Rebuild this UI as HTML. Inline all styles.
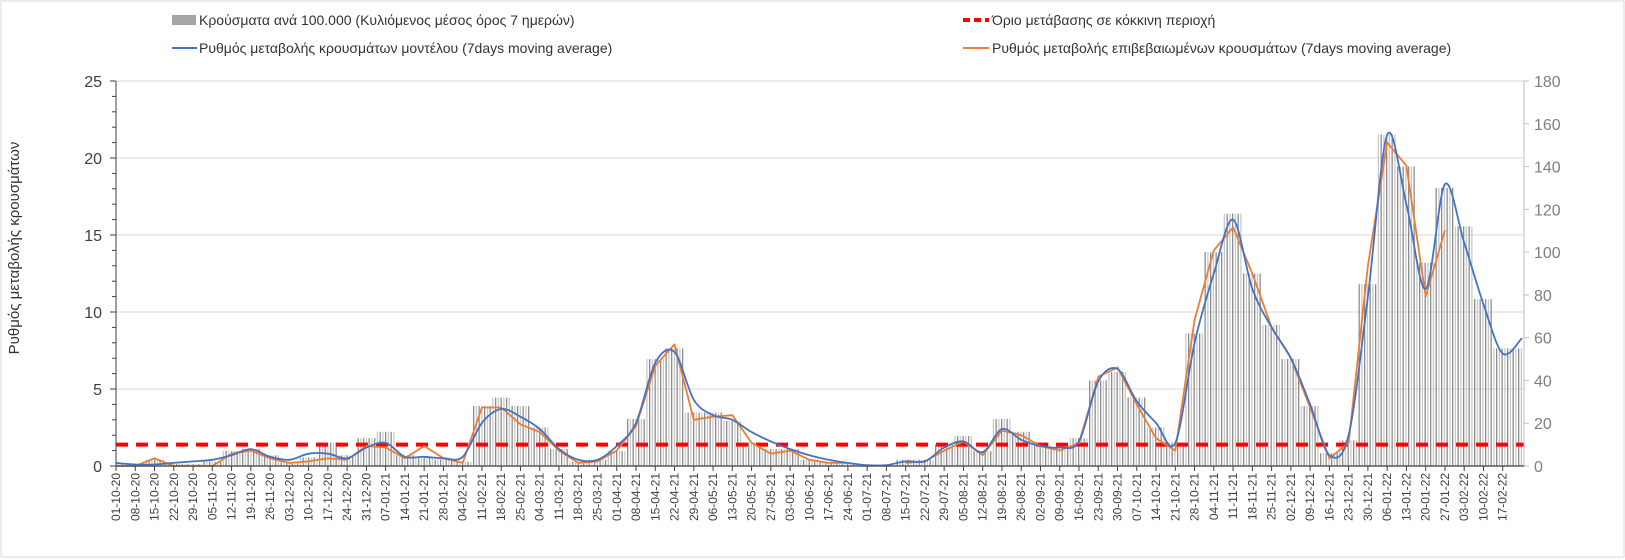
<!DOCTYPE html>
<html><head><meta charset="utf-8">
<style>
html,body{margin:0;padding:0;background:#fff;}
svg{display:block;font-family:"Liberation Sans",sans-serif;}
</style></head>
<body>
<svg id="chart" width="1625" height="560" viewBox="0 0 1625 560" xmlns="http://www.w3.org/2000/svg">
<defs>
<pattern id="stripes" patternUnits="userSpaceOnUse" width="5.5" height="10">
<rect x="0" y="0" width="1.3" height="10" fill="#8c8c8c"/>
<rect x="2.75" y="0" width="1.3" height="10" fill="#c8c8c8"/>
</pattern>
</defs>
<rect x="1" y="1" width="1623" height="556" fill="#fff" stroke="#d9d9d9"/>
<g id="grid"></g>
<g id="bars"></g>
<g id="lines"></g>
<g id="axes"></g>
<g id="legend">
<rect x="172" y="15" width="24" height="10" fill="#a6a6a6"/>
<text x="199" y="25" font-size="14" fill="#333">Κρούσματα ανά 100.000 (Κυλιόμενος μέσος όρος 7 ημερών)</text>
<line x1="172" y1="48" x2="197" y2="48" stroke="#4472c4" stroke-width="2"/>
<text x="199" y="53" font-size="14" fill="#333">Ρυθμός μεταβολής κρουσμάτων μοντέλου (7days moving average)</text>
<line x1="963" y1="20" x2="989" y2="20" stroke="#ff0000" stroke-width="4" stroke-dasharray="7,4"/>
<text x="992" y="25" font-size="14" fill="#333">Όριο μετάβασης σε κόκκινη περιοχή</text>
<line x1="963" y1="48" x2="989" y2="48" stroke="#ed7d31" stroke-width="2"/>
<text x="992" y="53" font-size="14" fill="#333">Ρυθμός μεταβολής επιβεβαιωμένων κρουσμάτων (7days moving average)</text>
</g>
<text transform="translate(19,248) rotate(-90)" text-anchor="middle" font-size="15" fill="#333">Ρυθμός μεταβολής κρουσμάτων</text>
</svg>
<script>
const dates = ["01-10-20","08-10-20","15-10-20","22-10-20","29-10-20","05-11-20","12-11-20","19-11-20","26-11-20","03-12-20","10-12-20","17-12-20","24-12-20","31-12-20","07-01-21","14-01-21","21-01-21","28-01-21","04-02-21","11-02-21","18-02-21","25-02-21","04-03-21","11-03-21","18-03-21","25-03-21","01-04-21","08-04-21","15-04-21","22-04-21","29-04-21","06-05-21","13-05-21","20-05-21","27-05-21","03-06-21","10-06-21","17-06-21","24-06-21","01-07-21","08-07-21","15-07-21","22-07-21","29-07-21","05-08-21","12-08-21","19-08-21","26-08-21","02-09-21","09-09-21","16-09-21","23-09-21","30-09-21","07-10-21","14-10-21","21-10-21","28-10-21","04-11-21","11-11-21","18-11-21","25-11-21","02-12-21","09-12-21","16-12-21","23-12-21","30-12-21","06-01-22","13-01-22","20-01-22","27-01-22","03-02-22","10-02-22","17-02-22","24-02-22"];
const modelRate = [0.2,0.1,0.1,0.2,0.3,0.4,0.7,1.1,0.6,0.4,0.8,0.8,0.5,1.2,1.5,0.6,0.6,0.5,0.6,2.8,3.7,3.2,2.4,1.1,0.4,0.4,1.3,2.8,6.7,7.4,4.3,3.3,3.0,2.2,1.6,1.1,0.7,0.4,0.2,0.05,0.05,0.3,0.3,1.2,1.6,0.9,2.4,1.7,1.3,1.2,1.6,5.5,6.3,4.2,2.8,1.5,8.0,12.5,16.0,11.5,9.0,7.0,4.0,0.7,2.0,11.0,21.5,17.0,11.5,18.3,14.5,10.5,7.3,8.3];
const confirmedRate = [0,0,0.5,0,0,0,0.8,1.0,0.5,0.2,0.3,0.5,0.4,1.3,1.2,0.5,1.3,0.5,0.2,3.8,3.8,2.7,2.2,1.0,0.2,0.3,1.0,2.6,6.5,7.9,3.0,3.2,3.3,1.5,0.8,1.0,0.4,0.2,0.2,null,null,0.2,0.3,1.0,1.6,0.7,2.3,2.0,1.3,1.0,1.5,5.8,6.4,4.0,1.8,1.0,9.5,14.0,15.5,12.5,9.0,7.0,3.8,0.5,1.5,13.0,21.0,19.5,11.0,15.3,null,null,null,null];
const casesPer100k = [1,0,3,1,1,2,7,8,5,2,4,11,5,13,16,5,4,3,2,28,32,28,18,8,2,3,7,22,50,55,25,25,21,11,8,8,3,2,1,0,0,3,3,10,14,7,22,16,11,9,13,40,44,32,18,11,62,100,118,90,66,50,28,6,12,85,155,140,95,130,112,78,55,55];
const leftTicks = [0,5,10,15,20,25];
const rightTicks = [0,20,40,60,80,100,120,140,160,180];
const thresholdCases = 10;

const NS="http://www.w3.org/2000/svg";
const X0=116, X1=1524, Y0=466, Y1=81, WEEK=19.26;
const xAt = i => X0 + i*WEEK;
const yL = v => Y0 - (v/25)*(Y0-Y1);
const yR = v => Y0 - (v/180)*(Y0-Y1);
function mk(tag, attrs, parent){const e=document.createElementNS(NS,tag);for(const k in attrs)e.setAttribute(k,attrs[k]);parent.appendChild(e);return e;}
const grid=document.getElementById('grid'), bars=document.getElementById('bars'), lines=document.getElementById('lines'), axes=document.getElementById('axes');

leftTicks.forEach(t=>{
  if(t>0){const g=mk('line',{x1:X0,x2:X1,y1:yL(t),y2:yL(t),stroke:'#d9d9d9','stroke-width':1},grid);
  
  }
  const lb=mk('text',{x:X0-14,y:yL(t)+6,'text-anchor':'end','font-size':16,fill:'#404040'},axes);
  lb.textContent=t;
  
  
});
for(let v=0;v<=25;v++){
  const tk=mk('line',{x1:X0-(v%5===0?6:4),x2:X0,y1:yL(v),y2:yL(v),stroke:'#404040','stroke-width':1},axes);
  
  
}
rightTicks.forEach(t=>{
  const tk=mk('line',{x1:X1,x2:X1+5,y1:yR(t),y2:yR(t),stroke:'#bfbfbf'},axes);
  
  
  const lb=mk('text',{x:X1+10,y:yR(t)+6,'font-size':16,fill:'#7f7f7f'},axes);
  lb.textContent=t;
  
  
});

casesPer100k.forEach((v,i)=>{
  const x=xAt(i)-WEEK/2, w=WEEK;
  const xa=Math.max(x,X0), xb=Math.min(x+w,X1);
  if(xb<=xa||v<=0) return;
  const b=mk('rect',{x:xa,y:yR(v),width:xb-xa,height:Y0-yR(v),fill:'url(#stripes)'},bars);
  
  
});

const th=mk('line',{x1:X0,x2:X1,y1:yR(thresholdCases),y2:yR(thresholdCases),stroke:'#ff0000','stroke-width':4,'stroke-dasharray':'12,8'},lines);



function pathFor(arr, smooth){
  const segs=[];let cur=[];
  arr.forEach((v,i)=>{ if(v===null){ if(cur.length)segs.push(cur); cur=[]; } else cur.push([xAt(i),yL(v)]); });
  if(cur.length)segs.push(cur);
  let d='';
  segs.forEach(p=>{
    d+='M'+p[0][0].toFixed(1)+','+p[0][1].toFixed(1);
    for(let k=0;k<p.length-1;k++){
      if(!smooth){d+='L'+p[k+1][0].toFixed(1)+','+p[k+1][1].toFixed(1);continue;}
      const p0=p[Math.max(k-1,0)],p1=p[k],p2=p[k+1],p3=p[Math.min(k+2,p.length-1)];
      const t=0.16;
      const c1=[p1[0]+(p2[0]-p0[0])*t, Math.min(Y0,p1[1]+(p2[1]-p0[1])*t)];
      const c2=[p2[0]-(p3[0]-p1[0])*t, Math.min(Y0,p2[1]-(p3[1]-p1[1])*t)];
      d+='C'+c1[0].toFixed(1)+','+c1[1].toFixed(1)+' '+c2[0].toFixed(1)+','+c2[1].toFixed(1)+' '+p2[0].toFixed(1)+','+p2[1].toFixed(1);
    }
  });
  return d;
}
const clip=mk('clipPath',{id:'plotclip'},document.querySelector('defs'));
mk('rect',{x:X0,y:0,width:X1-X0,height:Y0+2},clip);
const conf=mk('path',{d:pathFor(confirmedRate,false),fill:'none',stroke:'#ed7d31','stroke-width':1.8,'stroke-linejoin':'round','clip-path':'url(#plotclip)'},lines);


const mod=mk('path',{d:pathFor(modelRate,true),fill:'none',stroke:'#4472c4','stroke-width':1.8,'stroke-linejoin':'round','clip-path':'url(#plotclip)'},lines);



const ax=mk('line',{x1:X0,x2:X0,y1:Y1,y2:Y0,stroke:'#404040'},axes);


const axr=mk('line',{x1:X1,x2:X1,y1:Y1,y2:Y0,stroke:'#bfbfbf'},axes);


const xa=mk('line',{x1:X0,x2:X1,y1:Y0,y2:Y0,stroke:'#595959','stroke-width':1.5},axes);


dates.forEach((d,i)=>{
  const x=xAt(i); if(x>X1-10) return;
  const tk=mk('line',{x1:x,x2:x,y1:Y0,y2:Y0+5,stroke:'#404040'},axes);
  
  
  const lb=mk('text',{transform:`translate(${x+4},${Y0+7}) rotate(-90)`,'text-anchor':'end','font-size':12,fill:'#404040'},axes);
  lb.textContent=d;
  
  
});
</script>
</body></html>
